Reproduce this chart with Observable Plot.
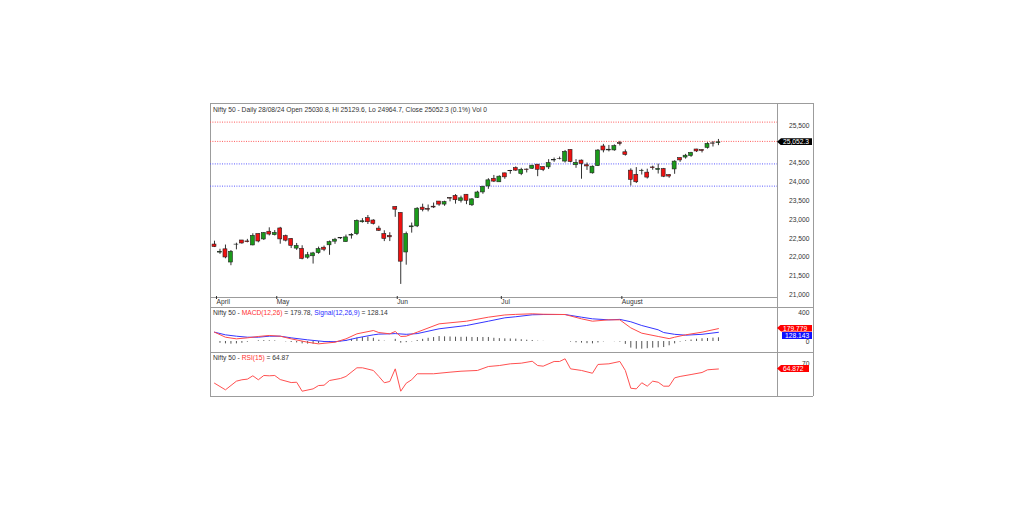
<!DOCTYPE html>
<html><head><meta charset="utf-8">
<script src="https://cdn.jsdelivr.net/npm/d3@7"></script>
<script src="https://cdn.jsdelivr.net/npm/@observablehq/plot@0.6"></script>
<style>
html,body{margin:0;padding:0;background:#fff;}
#root{position:relative;width:1025px;height:527px;overflow:hidden;font-family:Arial,"Liberation Sans",sans-serif;}
.pl{position:absolute;}
.hl{position:absolute;height:0;border-top:1px solid #9c9c9c;}
.vl{position:absolute;width:0;border-left:1px solid #9c9c9c;}
.ttl{position:absolute;font-size:6.7px;color:#333;white-space:nowrap;line-height:8px;}
.tag{position:absolute;font-size:6.7px;color:#fff;white-space:nowrap;line-height:7px;height:7px;box-sizing:border-box;}
.arrow{padding:0 2px 0 6px;clip-path:polygon(0 50%,4px 0,100% 0,100% 100%,4px 100%);}
.plain{padding:0 2px 0 3px;}
</style></head><body><div id="root"></div>
<script>
// ---- Data (Nifty 50 daily, Apr 15 – Aug 28 2024) ----
const dates = [
"2024-04-15","2024-04-16","2024-04-18","2024-04-19","2024-04-22","2024-04-23","2024-04-24","2024-04-25","2024-04-26","2024-04-29","2024-04-30",
"2024-05-02","2024-05-03","2024-05-06","2024-05-07","2024-05-08","2024-05-09","2024-05-10","2024-05-13","2024-05-14","2024-05-15","2024-05-16","2024-05-17","2024-05-18","2024-05-21","2024-05-22","2024-05-23","2024-05-24","2024-05-27","2024-05-28","2024-05-29","2024-05-30","2024-05-31",
"2024-06-03","2024-06-04","2024-06-05","2024-06-06","2024-06-07","2024-06-10","2024-06-11","2024-06-12","2024-06-13","2024-06-14","2024-06-18","2024-06-19","2024-06-20","2024-06-21","2024-06-24","2024-06-25","2024-06-26","2024-06-27","2024-06-28",
"2024-07-01","2024-07-02","2024-07-03","2024-07-04","2024-07-05","2024-07-08","2024-07-09","2024-07-10","2024-07-11","2024-07-12","2024-07-15","2024-07-16","2024-07-18","2024-07-19","2024-07-22","2024-07-23","2024-07-24","2024-07-25","2024-07-26","2024-07-29","2024-07-30","2024-07-31",
"2024-08-01","2024-08-02","2024-08-05","2024-08-06","2024-08-07","2024-08-08","2024-08-09","2024-08-12","2024-08-13","2024-08-14","2024-08-16","2024-08-19","2024-08-20","2024-08-21","2024-08-22","2024-08-23","2024-08-26","2024-08-27","2024-08-28"];
const opens = [
22339,22125,22212,21862,22336,22447,22421,22316,22620,22475,22679,
22588,22766,22562,22489,22231,22224,21990,22028,22113,22255,22319,22415,22513,22404,22577,22614,22931,23039,22977,22762,22617,22568,
23337,23179,22128,22798,22821,23319,23283,23344,23480,23400,23570,23630,23499,23661,23382,23577,23723,23881,24085,
23992,24229,24291,24369,24213,24330,24351,24459,24396,24388,24572,24615,24543,24853,24445,24568,24445,24230,24423,24943,24839,24839,
25031,24789,24302,24189,24289,24248,24386,24320,24343,24184,24334,24636,24649,24690,24863,24846,24906,25025,25030.8];
const highs = [
22428,22213,22326,22180,22375,22447,22476,22625,22620,22655,22783,
22711,22795,22589,22499,22368,22307,22131,22132,22271,22298,22432,22503,22525,22591,22629,22993,23027,23110,22998,22825,22705,22653,
23338,23179,22670,22910,23320,23411,23389,23441,23481,23490,23579,23665,23624,23667,23558,23754,23889,24087,24174,
24164,24237,24309,24401,24364,24345,24443,24461,24403,24593,24635,24662,24837,24854,24595,24583,24504,24426,24861,24999,24971,24985,
25078,24851,24350,24382,24337,24340,24420,24473,24360,24196,24563,24638,24734,24787,24867,24858,25044,25074,25129.6];
const lows = [
22259,22079,21961,21777,22198,22349,22384,22305,22385,22446,22568,
22567,22348,22409,22232,22185,21933,21950,21821,22082,22151,22054,22345,22475,22404,22483,22577,22907,22871,22858,22685,22417,22418,
23062,21281,21791,22642,22789,23207,23207,23295,23354,23354,23473,23412,23442,23398,23350,23562,23674,23805,23985,
23992,24072,24207,24281,24168,24240,24331,24141,24276,24331,24522,24588,24504,24508,24363,24074,24307,24210,24410,24774,24799,24817,
24956,24687,23893,23960,24185,24079,24311,24212,24116,24099,24204,24522,24607,24654,24784,24771,24874,24929,24964.7];
const closes = [
22272,22147,21996,22147,22337,22368,22402,22570,22420,22643,22605,
22648,22476,22442,22303,22302,21958,22055,22104,22218,22201,22404,22467,22502,22529,22597,22968,22957,22932,22888,22704,22488,22531,
23264,21884,22620,22821,23290,23259,23264,23323,23399,23465,23558,23516,23567,23501,23538,23721,23868,24044,24010,
24141,24124,24286,24302,24324,24320,24433,24324,24316,24502,24587,24613,24801,24531,24509,24479,24413,24406,24835,24837,24857,24951,
25011,24718,24056,23993,24298,24117,24368,24347,24140,24144,24541,24573,24698,24771,24811,24823,25010,25017,25052.3];

const monthNames = ["April","May","Jun","Jul","August"];
const yTicks = [21000,21500,22000,22500,23000,23500,24000,24500,25500];
const levelValues = [25590, 25078, 24480, 23890];
const levelColors = ["#ff5a5a","#ff5a5a","#5a5aff","#5a5aff"];

// MACD panel
const macdIdx = [0,2,4,6,8,10,12,14,17,19,20,22,24,26,29,30,32,33,34,35,37,41,46,50,53,55,58,60,64,67,69,72,74,76,78,81,83,84,86,89,92];
const macdVal = [130,60,37,51,70,84,74,37,-10,-33,-25,-10,37,107,153,125,107,140,70,74,130,246,283,339,370,378,386,380,376,316,283,302,302,190,116,70,40,60,93,130,179.78];
const sigIdx = [0,2,4,6,8,10,12,14,17,19,20,22,24,26,29,30,32,33,35,37,41,46,50,53,55,58,60,64,67,69,72,74,76,78,81,82,84,86,89,92];
const sigVal = [130,93,74,60,60,74,74,51,23,8,0,-3,15,50,93,103,107,110,100,110,177,223,283,330,345,372,376,376,339,316,302,308,275,223,163,125,100,88,100,128.14];
const histVal = [0,-25,-33,-37,-33,-25,-10,0,10,12,10,8,0,-5,-14,-20,-33,-36,-38,-30,-15,-12,-10,-3,14,30,47,55,60,45,18,5,0,30,-23,-16,-5,14,30,45,55,69,65,63,60,58,60,56,55,56,56,45,40,37,35,33,25,18,14,4,2,0,0,0,0,-8,-18,-23,-30,-33,-20,-5,0,-3,-8,-40,-92,-107,-107,-100,-93,-88,-84,-60,-33,-8,9,20,32,38,42,47,51.6];
const macdTicks = [0, 400];
const macdLast = 179.779, signalLast = 128.143;

// RSI panel
const rsiIdx = [0,2,4,5,6,7,8,9,10,11,12,14,15,16,18,19,20,21,23,24,26,27,29,30,31,32,33,34,35,36,37,40,43,45,48,50,52,54,56,58,59,60,62,63,64,65,67,69,70,72,74,75,76,77,78,79,80,81,82,83,84,85,87,89,90,91,92];
const rsiVal = [51.6,45.4,53.5,54.8,55.4,58.5,54.8,58.8,58.5,58.8,55,52.2,52.5,44.1,46.3,49.4,49.7,54.1,56,57.9,66,66,63.5,57.9,52,53.2,65,44.1,51.6,54.8,60.4,60.4,61.9,62.8,63.5,67.2,68.1,69.7,70.3,72.1,68.1,67.5,71.9,71.9,74.4,65,63.5,60.9,69.1,69.7,71.9,63.5,46.9,46.3,52,48.8,53.5,52.5,48.8,48.8,56.6,57.9,59.7,61.6,64.1,64.5,64.87];
const rsiTicks = [70];
const rsiLast = 64.872;

// ---- build tables ----
const candles = dates.map((d, i) => ({i, d, o: opens[i], h: highs[i], l: lows[i], c: closes[i]}));
const monthTicks = [], monthLabel = new Map();
dates.forEach((d, i) => { const m = +d.slice(5, 7); if (i === 0 || m !== +dates[i - 1].slice(5, 7)) { monthLabel.set(i, monthNames[monthTicks.length]); monthTicks.push(i); } });
const levels = levelValues.map((v, k) => ({v, c: levelColors[k]}));
const macd = macdIdx.map((i, k) => ({i, v: macdVal[k]}));
const sig = sigIdx.map((i, k) => ({i, v: sigVal[k]}));
const hist = histVal.map((v, i) => ({i, v}));
const rsi = rsiIdx.map((i, k) => ({i, v: rsiVal[k]}));

const root = document.getElementById("root");
const FONT = "Arial, 'Liberation Sans', sans-serif";
const style = {fontFamily: FONT, fontSize: "6.7px", color: "#333", background: "transparent", overflow: "visible"};
const X = {domain: [-0.73, 102.78], label: null};
const LEFT = 210, W = 603, MR = 36;
const UP = "#1a9a1a", DOWN = "#f01010";

function place(el, left, top) { const w = document.createElement("div"); w.className = "pl"; w.style.left = left + "px"; w.style.top = top + "px"; w.appendChild(el); root.appendChild(w); return el; }
function div(cls, css, html) { const e = document.createElement("div"); e.className = cls; Object.assign(e.style, css); if (html != null) e.innerHTML = html; root.appendChild(e); return e; }

// frame
div("hl", {left: "210px", top: "103px", width: "603px"});
div("hl", {left: "210px", top: "396px", width: "603px"});
div("vl", {left: "210px", top: "103px", height: "293px"});
div("vl", {left: "813px", top: "103px", height: "293px"});
div("vl", {left: "777px", top: "103px", height: "293px"});
div("hl", {left: "210px", top: "297px", width: "567px"});
div("hl", {left: "210px", top: "307px", width: "603px"});
div("hl", {left: "210px", top: "352px", width: "603px"});

// ---- main price panel ----
const TOP1 = 103;
const mainPlot = Plot.plot({
  width: W, height: 204, marginLeft: 0, marginRight: MR, marginTop: 22, marginBottom: 10,
  style, x: X, y: {domain: [20933, 25500], label: null},
  marks: [
    Plot.ruleY(levels, {y: "v", stroke: "c", strokeWidth: 1, strokeDasharray: "1,1.4"}),
    Plot.axisY(yTicks, {anchor: "right", label: null, tickSize: 0, tickPadding: 32, textAnchor: "end", tickFormat: d3.format(",")}),
    Plot.axisX(monthTicks, {anchor: "bottom", label: null, tickSize: 3, tickPadding: 0, textAnchor: "start", dx: 2, dy: -1, tickFormat: d => monthLabel.get(d), stroke: "#333"}),
    Plot.ruleX(candles, {x: "i", y1: "l", y2: "h", stroke: "#333", strokeWidth: 1}),
    Plot.rect(candles, {x1: d => d.i - 0.36, x2: d => d.i + 0.36, y1: "o", y2: "c", fill: d => d.c >= d.o ? UP : DOWN, stroke: "#222", strokeWidth: 0.6})
  ]
});
place(mainPlot, LEFT, TOP1);

// ---- MACD panel ----
const TOP2 = 307;
const macdPlot = Plot.plot({
  width: W, height: 45, marginLeft: 0, marginRight: MR, marginTop: 0, marginBottom: 0,
  style, x: {...X, axis: null}, y: {domain: [-153.3, 473.9], label: null},
  marks: [
    Plot.axisY(macdTicks, {anchor: "right", label: null, tickSize: 0, tickPadding: 32, textAnchor: "end"}),
    Plot.ruleX(hist, {x: "i", y1: 0, y2: "v", stroke: "#555", strokeWidth: 1}),
    Plot.line(sig, {x: "i", y: "v", stroke: "#3535ff", strokeWidth: 1}),
    Plot.line(macd, {x: "i", y: "v", stroke: "#ff4a4a", strokeWidth: 1})
  ]
});
place(macdPlot, LEFT, TOP2);

// ---- RSI panel ----
const TOP3 = 353;
const rsiPlot = Plot.plot({
  width: W, height: 43, marginLeft: 0, marginRight: MR, marginTop: 0, marginBottom: 0,
  style, x: {...X, axis: null}, y: {domain: [39.16, 79.35], label: null},
  marks: [
    Plot.axisY(rsiTicks, {anchor: "right", label: null, tickSize: 0, tickPadding: 32, textAnchor: "end"}),
    Plot.line(rsi, {x: "i", y: "v", stroke: "#ff5050", strokeWidth: 1})
  ]
});
place(rsiPlot, LEFT, TOP3);

// ---- titles ----
const last = candles[candles.length - 1], prev = candles[candles.length - 2];
const pct = ((last.c - prev.c) / prev.c * 100).toFixed(1);
const dd = last.d.slice(8, 10) + "/" + last.d.slice(5, 7) + "/" + last.d.slice(2, 4);
div("ttl", {left: "213px", top: "106px"}, `Nifty 50 - Daily ${dd} Open ${last.o.toFixed(1)}, Hi ${last.h.toFixed(1)}, Lo ${last.l.toFixed(1)}, Close ${last.c.toFixed(1)} (${pct}%) Vol 0`);
div("ttl", {left: "213px", top: "308.5px"}, `Nifty 50 - <span style="color:#ff3030">MACD(12,26)</span> = ${macdLast.toFixed(2)}, <span style="color:#2a2aff">Signal(12,26,9)</span> = ${signalLast.toFixed(2)}`);
div("ttl", {left: "213px", top: "354px"}, `Nifty 50 - <span style="color:#ff3030">RSI(15)</span> = ${rsiLast.toFixed(2)}`);

// ---- value tags (positioned through the plots' own y scales) ----
const yM = mainPlot.scale("y"), yD = macdPlot.scale("y"), yR = rsiPlot.scale("y");
const pTop = TOP1 + yM.apply(last.c) - 3.5;
div("tag arrow", {left: "777px", top: pTop + "px", background: "#000", width: "35px"}, d3.format(",.1f")(last.c));
const mTop = TOP2 + yD.apply(macdLast) - 3.5;
div("tag arrow", {left: "777px", top: mTop + "px", background: "#ff0000", width: "35px"}, macdLast.toFixed(3));
const sTop = Math.max(TOP2 + yD.apply(signalLast) - 3.5, mTop + 7);
div("tag plain", {left: "782px", top: sTop + "px", background: "#1010ff", width: "30px"}, signalLast.toFixed(3));
const rTop = TOP3 + yR.apply(rsiLast) - 3.5;
div("tag arrow", {left: "777px", top: rTop + "px", background: "#ff0000", width: "32px"}, rsiLast.toFixed(3));
</script></body></html>
